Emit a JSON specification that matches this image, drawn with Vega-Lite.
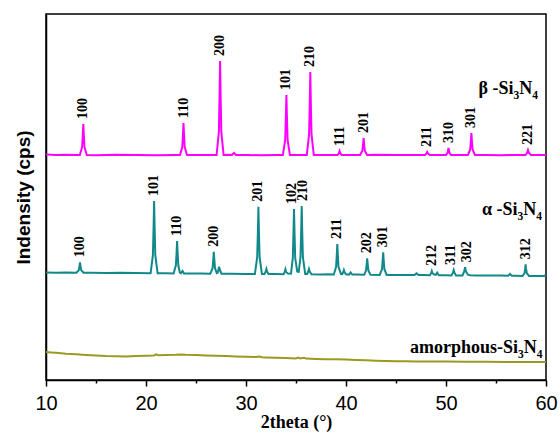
{
  "$schema": "https://vega.github.io/schema/vega-lite/v6.json",
  "width": 500,
  "height": 366,
  "autosize": "none",
  "padding": {"left": 46, "top": 14, "right": 14, "bottom": 57},
  "background": "white",
  "config": {
    "view": {"stroke": "black", "strokeWidth": 1.5},
    "axis": {"grid": false, "domainColor": "black", "domainWidth": 1.5, "tickColor": "black", "tickWidth": 1.5}
  },
  "datasets": {
    "lines": [
      {"s":"beta","x":10,"y":225.5},{"s":"beta","x":11,"y":225},{"s":"beta","x":12,"y":225.3},{"s":"beta","x":13,"y":225},
      {"s":"beta","x":13.38,"y":225},{"s":"beta","x":13.61,"y":232.8},{"s":"beta","x":13.68,"y":245.2},{"s":"beta","x":13.73,"y":256},{"s":"beta","x":13.78,"y":245.2},{"s":"beta","x":13.85,"y":232.8},{"s":"beta","x":14.08,"y":225},
      {"s":"beta","x":15,"y":224.8},{"s":"beta","x":17,"y":225.2},{"s":"beta","x":19,"y":225},{"s":"beta","x":21,"y":224.8},{"s":"beta","x":23,"y":225.1},
      {"s":"beta","x":23.4,"y":225},{"s":"beta","x":23.63,"y":233},{"s":"beta","x":23.7,"y":245.8},{"s":"beta","x":23.75,"y":257},{"s":"beta","x":23.8,"y":245.8},{"s":"beta","x":23.87,"y":233},{"s":"beta","x":24.1,"y":225},
      {"s":"beta","x":25,"y":225},{"s":"beta","x":26,"y":224.9},
      {"s":"beta","x":27.06,"y":225},{"s":"beta","x":27.29,"y":248.5},{"s":"beta","x":27.36,"y":286.1},{"s":"beta","x":27.41,"y":319},{"s":"beta","x":27.46,"y":286.1},{"s":"beta","x":27.53,"y":248.5},{"s":"beta","x":27.76,"y":225},
      {"s":"beta","x":28.3,"y":225.2},{"s":"beta","x":28.6,"y":225},{"s":"beta","x":28.8,"y":227},{"s":"beta","x":29,"y":225},
      {"s":"beta","x":30,"y":225},{"s":"beta","x":31.5,"y":224.8},{"s":"beta","x":33,"y":225},
      {"s":"beta","x":33.69,"y":225},{"s":"beta","x":33.92,"y":240},{"s":"beta","x":33.99,"y":264},{"s":"beta","x":34.04,"y":285},{"s":"beta","x":34.09,"y":264},{"s":"beta","x":34.16,"y":240},{"s":"beta","x":34.39,"y":225},
      {"s":"beta","x":35,"y":225.1},
      {"s":"beta","x":36.08,"y":225},{"s":"beta","x":36.31,"y":245.8},{"s":"beta","x":36.38,"y":279},{"s":"beta","x":36.43,"y":308},{"s":"beta","x":36.48,"y":279},{"s":"beta","x":36.55,"y":245.8},{"s":"beta","x":36.78,"y":225},
      {"s":"beta","x":37.5,"y":225},{"s":"beta","x":38.5,"y":224.9},
      {"s":"beta","x":39.15,"y":225},{"s":"beta","x":39.28,"y":226.5},{"s":"beta","x":39.36,"y":229},{"s":"beta","x":39.44,"y":226.5},{"s":"beta","x":39.57,"y":225},
      {"s":"beta","x":40.5,"y":225},
      {"s":"beta","x":41.41,"y":225},{"s":"beta","x":41.64,"y":229.3},{"s":"beta","x":41.71,"y":236},{"s":"beta","x":41.76,"y":242},{"s":"beta","x":41.81,"y":236},{"s":"beta","x":41.88,"y":229.3},{"s":"beta","x":42.11,"y":225},
      {"s":"beta","x":43,"y":225.2},{"s":"beta","x":45,"y":224.9},{"s":"beta","x":46.5,"y":225},
      {"s":"beta","x":47.9,"y":225},{"s":"beta","x":48.05,"y":226.5},{"s":"beta","x":48.12,"y":228},{"s":"beta","x":48.2,"y":226.5},{"s":"beta","x":48.4,"y":225},
      {"s":"beta","x":49,"y":225},
      {"s":"beta","x":50,"y":225},{"s":"beta","x":50.17,"y":227.5},{"s":"beta","x":50.21,"y":230},{"s":"beta","x":50.25,"y":232},{"s":"beta","x":50.29,"y":230},{"s":"beta","x":50.33,"y":227.5},{"s":"beta","x":50.5,"y":225},
      {"s":"beta","x":51.3,"y":225.1},
      {"s":"beta","x":52.19,"y":225},{"s":"beta","x":52.42,"y":230.5},{"s":"beta","x":52.49,"y":239.3},{"s":"beta","x":52.54,"y":247},{"s":"beta","x":52.59,"y":239.3},{"s":"beta","x":52.66,"y":230.5},{"s":"beta","x":52.89,"y":225},
      {"s":"beta","x":54,"y":225},{"s":"beta","x":55.5,"y":224.8},{"s":"beta","x":57,"y":225},
      {"s":"beta","x":57.95,"y":225},{"s":"beta","x":58.1,"y":227},{"s":"beta","x":58.15,"y":228.5},{"s":"beta","x":58.2,"y":230},{"s":"beta","x":58.25,"y":228.5},{"s":"beta","x":58.3,"y":227},{"s":"beta","x":58.5,"y":225},
      {"s":"beta","x":59,"y":225},{"s":"beta","x":60,"y":225},

      {"s":"alpha","x":10,"y":107.5},{"s":"alpha","x":11,"y":107.3},{"s":"alpha","x":12,"y":107.6},
      {"s":"alpha","x":13.05,"y":107.3},{"s":"alpha","x":13.28,"y":109.9},{"s":"alpha","x":13.35,"y":114.1},{"s":"alpha","x":13.4,"y":117.7},{"s":"alpha","x":13.45,"y":114.1},{"s":"alpha","x":13.52,"y":109.9},{"s":"alpha","x":13.75,"y":107.3},
      {"s":"alpha","x":14.5,"y":107.2},{"s":"alpha","x":16,"y":107.1},{"s":"alpha","x":17.5,"y":107.3},{"s":"alpha","x":19,"y":106.9},
      {"s":"alpha","x":20.46,"y":106.7},{"s":"alpha","x":20.69,"y":124.8},{"s":"alpha","x":20.76,"y":153.7},{"s":"alpha","x":20.81,"y":179},{"s":"alpha","x":20.86,"y":153.7},{"s":"alpha","x":20.93,"y":124.8},{"s":"alpha","x":21.16,"y":106.7},
      {"s":"alpha","x":22,"y":106.8},
      {"s":"alpha","x":22.76,"y":106.6},{"s":"alpha","x":22.99,"y":114.7},{"s":"alpha","x":23.06,"y":127.7},{"s":"alpha","x":23.11,"y":139},{"s":"alpha","x":23.16,"y":127.7},{"s":"alpha","x":23.23,"y":114.7},{"s":"alpha","x":23.38,"y":107.5},{"s":"alpha","x":23.5,"y":106.9},{"s":"alpha","x":23.65,"y":109},{"s":"alpha","x":23.8,"y":106.6},
      {"s":"alpha","x":24.5,"y":106.5},{"s":"alpha","x":25.5,"y":106.6},
      {"s":"alpha","x":26.43,"y":106.3},{"s":"alpha","x":26.66,"y":111.8},{"s":"alpha","x":26.73,"y":120.6},{"s":"alpha","x":26.78,"y":128.3},{"s":"alpha","x":26.83,"y":120.6},{"s":"alpha","x":26.9,"y":111.8},{"s":"alpha","x":27.08,"y":107},
      {"s":"alpha","x":27.18,"y":107.5},{"s":"alpha","x":27.25,"y":110.5},{"s":"alpha","x":27.31,"y":113.3},{"s":"alpha","x":27.37,"y":110.5},{"s":"alpha","x":27.55,"y":106.3},
      {"s":"alpha","x":28.5,"y":106.2},{"s":"alpha","x":30,"y":106.1},
      {"s":"alpha","x":30.89,"y":106},{"s":"alpha","x":31.12,"y":122.8},{"s":"alpha","x":31.19,"y":149.7},{"s":"alpha","x":31.24,"y":173.3},{"s":"alpha","x":31.29,"y":149.7},{"s":"alpha","x":31.36,"y":122.8},{"s":"alpha","x":31.59,"y":106},
      {"s":"alpha","x":31.85,"y":106},{"s":"alpha","x":31.97,"y":108.5},{"s":"alpha","x":32.04,"y":111},{"s":"alpha","x":32.11,"y":108.5},{"s":"alpha","x":32.25,"y":106},
      {"s":"alpha","x":33,"y":105.9},
      {"s":"alpha","x":33.75,"y":105.8},{"s":"alpha","x":33.87,"y":108},{"s":"alpha","x":33.94,"y":110.7},{"s":"alpha","x":34.01,"y":108},{"s":"alpha","x":34.2,"y":106.5},
      {"s":"alpha","x":34.5,"y":106.3},{"s":"alpha","x":34.68,"y":122.1},{"s":"alpha","x":34.75,"y":148.2},{"s":"alpha","x":34.8,"y":171},{"s":"alpha","x":34.85,"y":148.2},{"s":"alpha","x":34.92,"y":122.1},{"s":"alpha","x":35.12,"y":108.5},
      {"s":"alpha","x":35.27,"y":108},{"s":"alpha","x":35.45,"y":122.8},{"s":"alpha","x":35.52,"y":150.1},{"s":"alpha","x":35.57,"y":174},{"s":"alpha","x":35.62,"y":150.1},{"s":"alpha","x":35.69,"y":122.8},{"s":"alpha","x":35.92,"y":106},
      {"s":"alpha","x":36.12,"y":106},{"s":"alpha","x":36.23,"y":108.5},{"s":"alpha","x":36.3,"y":111},{"s":"alpha","x":36.37,"y":108.5},{"s":"alpha","x":36.55,"y":105.7},
      {"s":"alpha","x":37.5,"y":105.6},{"s":"alpha","x":38.2,"y":105.7},
      {"s":"alpha","x":38.78,"y":105.5},{"s":"alpha","x":39.01,"y":113.1},{"s":"alpha","x":39.08,"y":125.3},{"s":"alpha","x":39.13,"y":136},{"s":"alpha","x":39.18,"y":125.3},{"s":"alpha","x":39.25,"y":113.1},{"s":"alpha","x":39.5,"y":106},
      {"s":"alpha","x":39.62,"y":105.8},{"s":"alpha","x":39.72,"y":107.8},{"s":"alpha","x":39.79,"y":110},{"s":"alpha","x":39.86,"y":107.8},{"s":"alpha","x":40,"y":105.6},
      {"s":"alpha","x":40.3,"y":105.4},{"s":"alpha","x":40.46,"y":107.5},{"s":"alpha","x":40.62,"y":105.4},
      {"s":"alpha","x":41,"y":105.4},
      {"s":"alpha","x":41.82,"y":105.3},{"s":"alpha","x":42,"y":109.4},{"s":"alpha","x":42.07,"y":116},{"s":"alpha","x":42.12,"y":121.7},{"s":"alpha","x":42.17,"y":116},{"s":"alpha","x":42.24,"y":109.4},{"s":"alpha","x":42.45,"y":105.3},
      {"s":"alpha","x":43.37,"y":105.1},{"s":"alpha","x":43.6,"y":110.8},{"s":"alpha","x":43.67,"y":119.8},{"s":"alpha","x":43.72,"y":127.7},{"s":"alpha","x":43.77,"y":119.8},{"s":"alpha","x":43.84,"y":110.8},{"s":"alpha","x":44.07,"y":105.1},
      {"s":"alpha","x":44.8,"y":105},{"s":"alpha","x":46,"y":105.1},
      {"s":"alpha","x":46.85,"y":104.9},{"s":"alpha","x":47.05,"y":106.6},{"s":"alpha","x":47.25,"y":104.9},
      {"s":"alpha","x":47.8,"y":104.9},
      {"s":"alpha","x":48.4,"y":104.8},{"s":"alpha","x":48.51,"y":106.8},{"s":"alpha","x":48.58,"y":109},{"s":"alpha","x":48.65,"y":106.8},{"s":"alpha","x":48.82,"y":105.5},
      {"s":"alpha","x":48.98,"y":105.2},{"s":"alpha","x":49.12,"y":107.3},{"s":"alpha","x":49.28,"y":104.8},
      {"s":"alpha","x":50,"y":104.7},
      {"s":"alpha","x":50.55,"y":104.6},{"s":"alpha","x":50.69,"y":107.3},{"s":"alpha","x":50.77,"y":110},{"s":"alpha","x":50.85,"y":107.3},{"s":"alpha","x":51,"y":104.6},
      {"s":"alpha","x":51.65,"y":104.5},{"s":"alpha","x":51.82,"y":108.5},{"s":"alpha","x":51.91,"y":112.7},{"s":"alpha","x":52,"y":108.5},{"s":"alpha","x":52.2,"y":105.3},{"s":"alpha","x":52.4,"y":104.8},
      {"s":"alpha","x":53,"y":104.6},{"s":"alpha","x":54.5,"y":104.4},{"s":"alpha","x":55.5,"y":104.4},
      {"s":"alpha","x":56.22,"y":104.2},{"s":"alpha","x":56.4,"y":106},{"s":"alpha","x":56.58,"y":104.2},
      {"s":"alpha","x":57,"y":104.2},
      {"s":"alpha","x":57.66,"y":104.1},{"s":"alpha","x":57.86,"y":107},{"s":"alpha","x":57.92,"y":111.6},{"s":"alpha","x":57.96,"y":115.7},{"s":"alpha","x":58,"y":111.6},{"s":"alpha","x":58.08,"y":107},{"s":"alpha","x":58.3,"y":104.1},
      {"s":"alpha","x":59,"y":104.1},{"s":"alpha","x":59.8,"y":104},{"s":"alpha","x":60,"y":105},

      {"s":"amor","x":10,"y":28},{"s":"amor","x":10.5,"y":27.6},{"s":"amor","x":11,"y":27.2},{"s":"amor","x":12,"y":26.3},{"s":"amor","x":13,"y":25.8},{"s":"amor","x":14,"y":25.1},{"s":"amor","x":15,"y":24.5},{"s":"amor","x":16,"y":24},{"s":"amor","x":17,"y":23.8},{"s":"amor","x":18,"y":23.6},{"s":"amor","x":19,"y":23.9},{"s":"amor","x":20,"y":24.2},{"s":"amor","x":20.8,"y":24.6},{"s":"amor","x":21,"y":25.6},{"s":"amor","x":21.2,"y":24.8},{"s":"amor","x":22,"y":25},{"s":"amor","x":23,"y":25.3},{"s":"amor","x":23.5,"y":25.6},{"s":"amor","x":24,"y":25.2},{"s":"amor","x":25,"y":25},{"s":"amor","x":26,"y":24.6},{"s":"amor","x":27,"y":24.3},{"s":"amor","x":28,"y":24},{"s":"amor","x":29,"y":23.6},{"s":"amor","x":30,"y":23.2},{"s":"amor","x":31,"y":22.9},{"s":"amor","x":31.3,"y":23.5},{"s":"amor","x":31.6,"y":22.8},{"s":"amor","x":32,"y":22.6},{"s":"amor","x":33,"y":22.3},{"s":"amor","x":34,"y":22},{"s":"amor","x":35,"y":21.6},{"s":"amor","x":35.2,"y":22.4},{"s":"amor","x":35.4,"y":21.6},{"s":"amor","x":35.8,"y":22.3},{"s":"amor","x":36,"y":21.4},{"s":"amor","x":37,"y":21.1},{"s":"amor","x":38,"y":20.8},{"s":"amor","x":39,"y":20.7},{"s":"amor","x":40,"y":20.5},{"s":"amor","x":41,"y":20.1},{"s":"amor","x":42,"y":19.7},{"s":"amor","x":43,"y":19.3},{"s":"amor","x":44,"y":19},{"s":"amor","x":45,"y":18.8},{"s":"amor","x":46,"y":18.7},{"s":"amor","x":47,"y":18.6},{"s":"amor","x":48,"y":18.5},{"s":"amor","x":50,"y":18.4},{"s":"amor","x":52,"y":18.3},{"s":"amor","x":54,"y":18.2},{"s":"amor","x":56,"y":18.1},{"s":"amor","x":58,"y":18},{"s":"amor","x":60,"y":18}
    ],
    "peaks": [
      {"s":"beta","x":13.73,"y":256,"hkl":"100"},{"s":"beta","x":23.75,"y":257,"hkl":"110"},{"s":"beta","x":27.41,"y":319,"hkl":"200"},{"s":"beta","x":34.04,"y":285,"hkl":"101"},{"s":"beta","x":36.43,"y":308,"hkl":"210"},{"s":"beta","x":39.36,"y":229,"hkl":"111"},{"s":"beta","x":41.76,"y":242,"hkl":"201"},{"s":"beta","x":48.12,"y":228,"hkl":"211"},{"s":"beta","x":50.25,"y":232,"hkl":"310"},{"s":"beta","x":52.54,"y":247,"hkl":"301"},{"s":"beta","x":58.2,"y":230,"hkl":"221"},
      {"s":"alpha","x":13.4,"y":117.7,"hkl":"100"},{"s":"alpha","x":20.81,"y":179,"hkl":"101"},{"s":"alpha","x":23.11,"y":139,"hkl":"110"},{"s":"alpha","x":26.78,"y":128.3,"hkl":"200"},{"s":"alpha","x":31.24,"y":173.3,"hkl":"201"},{"s":"alpha","x":34.8,"y":171,"hkl":"102"},{"s":"alpha","x":35.57,"y":174,"hkl":"210"},{"s":"alpha","x":39.13,"y":136,"hkl":"211"},{"s":"alpha","x":42.12,"y":121.7,"hkl":"202"},{"s":"alpha","x":43.72,"y":127.7,"hkl":"301"},{"s":"alpha","x":48.58,"y":109,"hkl":"212"},{"s":"alpha","x":50.77,"y":110,"hkl":"311"},{"s":"alpha","x":51.91,"y":112.7,"hkl":"302"},{"s":"alpha","x":57.96,"y":115.7,"hkl":"312"}
    ]
  },
  "layer": [
    {
      "data": {"name": "lines"},
      "mark": {"type": "line", "strokeWidth": 2},
      "encoding": {
        "x": {"field": "x", "type": "quantitative", "scale": {"domain": [10, 60], "nice": false},
          "axis": {"title": "2theta (°)", "values": [10,15,20,25,30,35,40,45,50,55,60],
            "labelExpr": "datum.value % 10 === 0 ? datum.label : ''",
            "tickSize": {"condition": {"test": "datum.value % 10 === 0", "value": 6}, "value": 3},
            "labelFont": "Liberation Sans", "labelFontSize": 20, "labelColor": "black", "labelPadding": 7,
            "labelFlush": false, "labelOverlap": false, "labelBound": false,
            "titleFont": "Liberation Serif", "titleFontWeight": "bold", "titleFontSize": 18, "titleColor": "black", "titlePadding": 0}},
        "y": {"field": "y", "type": "quantitative", "scale": {"domain": [0, 366], "nice": false, "zero": false},
          "axis": {"title": "Indensity (cps)", "labels": false, "ticks": false,
            "titleFont": "Liberation Sans", "titleFontWeight": "bold", "titleFontSize": 19, "titleColor": "black", "titlePadding": 13}},
        "color": {"field": "s", "type": "nominal", "scale": {"domain": ["beta", "alpha", "amor"], "range": ["#ff00ff", "#11898b", "#9a9a20"]}, "legend": null}
      }
    },
    {
      "data": {"name": "peaks"},
      "transform": [{"filter": "!(datum.s === 'alpha' && (datum.hkl === '102' || datum.hkl === '210' || datum.hkl === '311' || datum.hkl === '302'))"}],
      "mark": {"type": "text", "angle": 270, "align": "left", "baseline": "middle", "dx": 5, "font": "Liberation Serif", "fontWeight": "bold", "fontSize": 14, "color": "black"},
      "encoding": {
        "x": {"field": "x", "type": "quantitative"},
        "y": {"field": "y", "type": "quantitative"},
        "text": {"field": "hkl"}
      }
    },
    {
      "data": {"name": "peaks"},
      "transform": [{"filter": "datum.s === 'alpha' && (datum.hkl === '102' || datum.hkl === '311')"}],
      "mark": {"type": "text", "angle": 270, "align": "left", "baseline": "middle", "dx": 5, "dy": -2.5, "font": "Liberation Serif", "fontWeight": "bold", "fontSize": 14, "color": "black"},
      "encoding": {
        "x": {"field": "x", "type": "quantitative"},
        "y": {"field": "y", "type": "quantitative"},
        "text": {"field": "hkl"}
      }
    },
    {
      "data": {"name": "peaks"},
      "transform": [{"filter": "datum.s === 'alpha' && (datum.hkl === '210' || datum.hkl === '302')"}],
      "mark": {"type": "text", "angle": 270, "align": "left", "baseline": "middle", "dx": 5, "dy": 1.5, "font": "Liberation Serif", "fontWeight": "bold", "fontSize": 14, "color": "black"},
      "encoding": {
        "x": {"field": "x", "type": "quantitative"},
        "y": {"field": "y", "type": "quantitative"},
        "text": {"field": "hkl"}
      }
    },
    {
      "data": {"values": [{"n": 1}]},
      "encoding": {"x": {"datum": 59.2}, "y": {"datum": 286}},
      "layer": [
        {"mark": {"type": "text", "text": "4", "align": "right", "baseline": "alphabetic", "dy": 5, "font": "Liberation Serif", "fontWeight": "bold", "fontSize": 11.5, "color": "black"}},
        {"mark": {"type": "text", "text": "N", "align": "right", "baseline": "alphabetic", "dx": -5.8, "font": "Liberation Serif", "fontWeight": "bold", "fontSize": 18, "color": "black"}},
        {"mark": {"type": "text", "text": "3", "align": "right", "baseline": "alphabetic", "dx": -18.8, "dy": 5, "font": "Liberation Serif", "fontWeight": "bold", "fontSize": 11.5, "color": "black"}},
        {"mark": {"type": "text", "text": "β -Si", "align": "right", "baseline": "alphabetic", "dx": -24.5, "font": "Liberation Serif", "fontWeight": "bold", "fontSize": 18, "color": "black"}}
      ]
    },
    {
      "data": {"values": [{"n": 1}]},
      "encoding": {"x": {"datum": 59.6}, "y": {"datum": 165}},
      "layer": [
        {"mark": {"type": "text", "text": "4", "align": "right", "baseline": "alphabetic", "dy": 5, "font": "Liberation Serif", "fontWeight": "bold", "fontSize": 11.5, "color": "black"}},
        {"mark": {"type": "text", "text": "N", "align": "right", "baseline": "alphabetic", "dx": -5.8, "font": "Liberation Serif", "fontWeight": "bold", "fontSize": 18, "color": "black"}},
        {"mark": {"type": "text", "text": "3", "align": "right", "baseline": "alphabetic", "dx": -18.8, "dy": 5, "font": "Liberation Serif", "fontWeight": "bold", "fontSize": 11.5, "color": "black"}},
        {"mark": {"type": "text", "text": "α -Si", "align": "right", "baseline": "alphabetic", "dx": -24.5, "font": "Liberation Serif", "fontWeight": "bold", "fontSize": 18, "color": "black"}}
      ]
    },
    {
      "data": {"values": [{"n": 1}]},
      "encoding": {"x": {"datum": 59.65}, "y": {"datum": 27.5}},
      "layer": [
        {"mark": {"type": "text", "text": "4", "align": "right", "baseline": "alphabetic", "dy": 5, "font": "Liberation Serif", "fontWeight": "bold", "fontSize": 11.5, "color": "black"}},
        {"mark": {"type": "text", "text": "N", "align": "right", "baseline": "alphabetic", "dx": -5.8, "font": "Liberation Serif", "fontWeight": "bold", "fontSize": 18, "color": "black"}},
        {"mark": {"type": "text", "text": "3", "align": "right", "baseline": "alphabetic", "dx": -18.8, "dy": 5, "font": "Liberation Serif", "fontWeight": "bold", "fontSize": 11.5, "color": "black"}},
        {"mark": {"type": "text", "text": "amorphous-Si", "align": "right", "baseline": "alphabetic", "dx": -24.5, "font": "Liberation Serif", "fontWeight": "bold", "fontSize": 18, "color": "black"}}
      ]
    }
  ]
}
